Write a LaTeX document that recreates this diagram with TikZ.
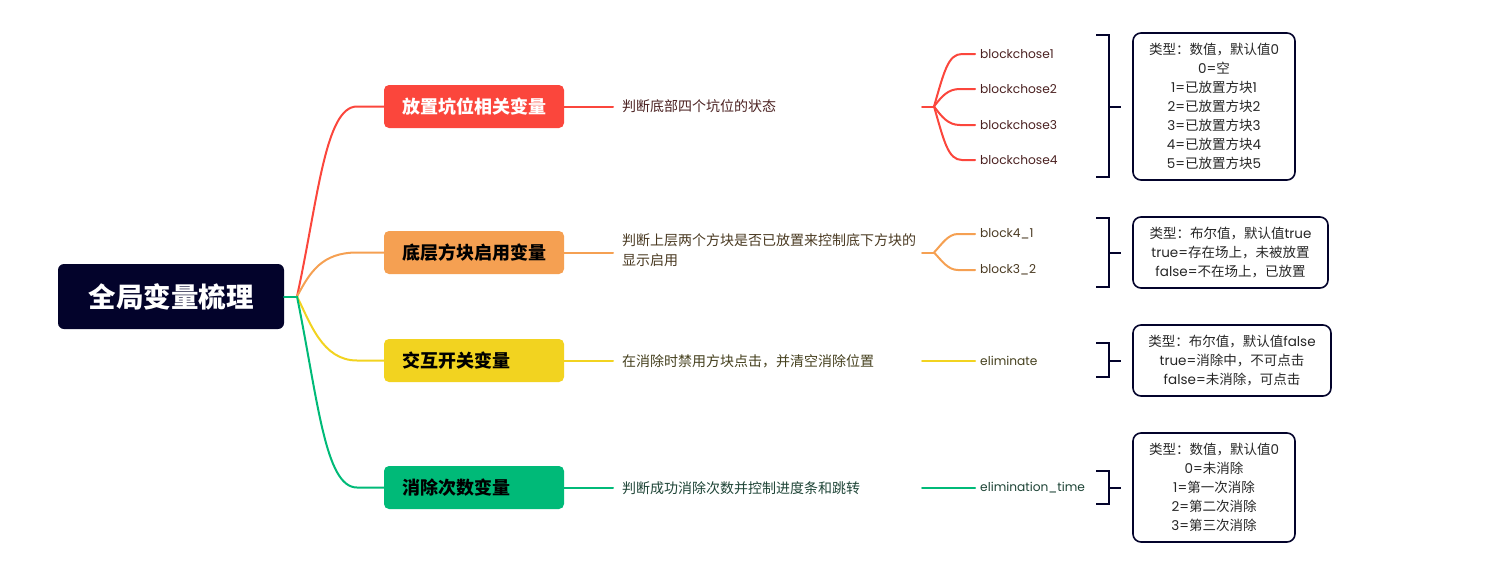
\documentclass[tikz,border=0pt]{standalone}
\usepackage{fontspec}
\setmainfont{Noto Sans CJK SC}
\newfontfamily\latf{Poppins}
\newcommand\pop[1]{{\latf #1}}
\definecolor{navy}{HTML}{03032B}
\definecolor{cred}{HTML}{FB463C}
\definecolor{corange}{HTML}{F5A052}
\definecolor{cyellow}{HTML}{F2D320}
\definecolor{cgreen}{HTML}{00BA78}
\definecolor{tred}{HTML}{4A2020}
\definecolor{torange}{HTML}{4A3A22}
\definecolor{tyellow}{HTML}{45401E}
\definecolor{tgreen}{HTML}{1E4436}
\begin{document}
\begin{tikzpicture}[x=1pt,y=-1pt,
  rootbox/.style={fill=navy, rounded corners=6pt, minimum width=226pt, minimum height=65pt,
    text=white, inner sep=0pt, font=\fontsize{27.5}{30}\selectfont\bfseries},
  topic/.style={rounded corners=5pt, text width=144pt, align=left, inner xsep=18pt, inner ysep=0pt,
    minimum height=43pt, font=\fontsize{18}{20}\selectfont\bfseries},
  desc/.style={anchor=west, inner sep=0pt, align=left, font=\fontsize{14}{20}\selectfont},
  leaf/.style={anchor=west, inner sep=0pt, font=\latf\fontsize{12.2}{15}\selectfont},
  info/.style={draw=navy, line width=1.6pt, rounded corners=8pt, align=center, inner sep=0pt,
    text=black!85, font=\fontsize{13.5}{19}\selectfont},
  bracketline/.style={draw=navy, line width=2pt},
  link/.style={line width=2pt, line cap=round}
]
\useasboundingbox (0,0) rectangle (1505,581);

% central topic
\node[rootbox] (root) at (171,296.5) {全局变量梳理};
\coordinate (hub) at (297,296.5);
\draw[link, cgreen] (root.east) -- (hub);

% main branches
\node[topic, fill=cred, text=white] (t1) at (474,106.5) {放置坑位相关变量};
\node[topic, fill=corange, text=black] (t2) at (474,252.5) {底层方块启用变量};
\node[topic, fill=cyellow, text=black] (t3) at (474,360.5) {交互开关变量};
\node[topic, fill=cgreen, text=black] (t4) at (474,487.5) {消除次数变量};

\draw[link, cred]    (hub) .. controls (318,200) and (325,106.5) .. (357,106.5) -- (t1.west);
\draw[link, corange] (hub) .. controls (310,272) and (322,252.5) .. (357,252.5) -- (t2.west);
\draw[link, cyellow] (hub) .. controls (310,322) and (322,360.5) .. (357,360.5) -- (t3.west);
\draw[link, cgreen]  (hub) .. controls (318,400) and (325,487.5) .. (357,487.5) -- (t4.west);

% descriptions
\node[desc, text=tred] (d1) at (622,106.5) {判断底部四个坑位的状态};
\node[desc, text=torange, anchor=north west] (d2) at (622,233) {判断上层两个方块是否已放置来控制底下方块的\\显示启用};
\node[desc, text=tyellow] (d3) at (622,361) {在消除时禁用方块点击，并清空消除位置};
\node[desc, text=tgreen] (d4) at (622,488) {判断成功消除次数并控制进度条和跳转};

\draw[link, cred]    (t1.east) -- (613,106.5);
\draw[link, corange] (t2.east) -- (613,252.5);
\draw[link, cyellow] (t3.east) -- (613,360.5);
\draw[link, cgreen]  (t4.east) -- (613,487.5);

% leaves
\node[leaf, text=tred] (l11) at (980,54) {blockchose1};
\node[leaf, text=tred] (l12) at (980,89) {blockchose2};
\node[leaf, text=tred] (l13) at (980,125) {blockchose3};
\node[leaf, text=tred] (l14) at (980,160) {blockchose4};
\node[leaf, text=torange] (l21) at (980,234) {block4\_1};
\node[leaf, text=torange] (l22) at (980,270) {block3\_2};
\node[leaf, text=tyellow] (l31) at (980,361) {eliminate};
\node[leaf, text=tgreen] (l41) at (980,488) {elimination\_time};

\coordinate (s1) at (922,106.5);
\coordinate (j1) at (934,106.5);
\draw[link, cred] (s1) -- (j1);
\draw[link, cred] (j1) .. controls (944,72) and (948,54) .. (962,54) -- (975,54);
\draw[link, cred] (j1) .. controls (942,96) and (948,89) .. (960,89) -- (975,89);
\draw[link, cred] (j1) .. controls (942,117) and (948,125) .. (960,125) -- (975,125);
\draw[link, cred] (j1) .. controls (944,141) and (948,160) .. (962,160) -- (975,160);

\coordinate (s2) at (922,252.5);
\coordinate (j2) at (934,252.5);
\draw[link, corange] (s2) -- (j2);
\draw[link, corange] (j2) .. controls (942,244) and (948,234) .. (958,234) -- (975,234);
\draw[link, corange] (j2) .. controls (942,261) and (948,270) .. (958,270) -- (975,270);

\coordinate (s3) at (922,361);
\draw[link, cyellow] (s3) -- (975,361);
\coordinate (s4) at (922,488);
\draw[link, cgreen] (s4) -- (975,488);

% detail boxes
\node[info, minimum width=162pt, minimum height=147pt] (b1) at (1214,106.5)
  {类型：数值，默认值\pop{0}\\\pop{0=}空\\\pop{1=}已放置方块\pop{1}\\\pop{2=}已放置方块\pop{2}\\
   \pop{3=}已放置方块\pop{3}\\\pop{4=}已放置方块\pop{4}\\\pop{5=}已放置方块\pop{5}};
\node[info, minimum width=195pt, minimum height=71pt] (b2) at (1230.5,252.5)
  {类型：布尔值，默认值\pop{true}\\\pop{true=}存在场上，未被放置\\\pop{false=}不在场上，已放置};
\node[info, minimum width=198pt, minimum height=71pt] (b3) at (1232,360.5)
  {类型：布尔值，默认值\pop{false}\\\pop{true=}消除中，不可点击\\\pop{false=}未消除，可点击};
\node[info, minimum width=162pt, minimum height=109pt] (b4) at (1214,487.5)
  {类型：数值，默认值\pop{0}\\\pop{0=}未消除\\\pop{1=}第一次消除\\\pop{2=}第二次消除\\\pop{3=}第三次消除};

% brackets joining leaves to their detail boxes
\draw[bracketline] (1096,35) -- (1109,35) -- (1109,177) -- (1096,177);
\draw[bracketline] (1109,106.5) -- (1121,106.5);
\draw[bracketline] (1096,218) -- (1109,218) -- (1109,287) -- (1096,287);
\draw[bracketline] (1109,252.5) -- (1121,252.5);
\draw[bracketline] (1096,343) -- (1109,343) -- (1109,377) -- (1096,377);
\draw[bracketline] (1109,360.5) -- (1121,360.5);
\draw[bracketline] (1096,471) -- (1109,471) -- (1109,504) -- (1096,504);
\draw[bracketline] (1109,487.5) -- (1121,487.5);
\end{tikzpicture}
\end{document}
